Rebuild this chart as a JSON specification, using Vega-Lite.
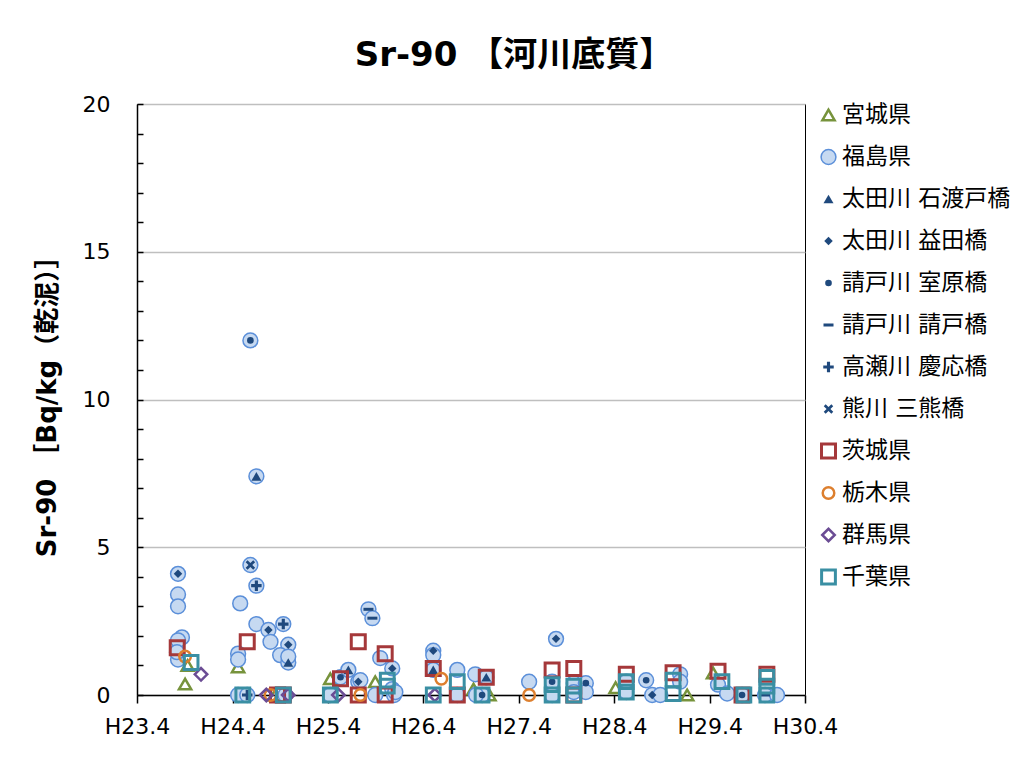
{
  "$schema": "https://vega.github.io/schema/vega-lite/v6.json",
  "autosize": {"type": "none"},
  "width": 668,
  "height": 591,
  "padding": {"left": 137, "top": 104, "right": 228, "bottom": 69},
  "background": "white",
  "title": {
    "text": "Sr-90 【河川底質】",
    "font": "DejaVu Sans, Noto Sans CJK JP",
    "fontSize": 34,
    "fontWeight": "bold",
    "color": "#000000",
    "anchor": "middle",
    "dx": 43,
    "offset": 20
  },
  "config": {
    "view": {"stroke": "#000000", "strokeWidth": 1},
    "axis": {"labelFont": "DejaVu Sans", "titleFont": "DejaVu Sans, Noto Sans CJK JP"}
  },
  "data": {
    "values": [
      {"series": "宮城県", "date": "2011-10-02", "value": 0.37},
      {"series": "宮城県", "date": "2011-10-12", "value": 1.0},
      {"series": "宮城県", "date": "2012-04-22", "value": 0.95},
      {"series": "宮城県", "date": "2012-09-11", "value": 0},
      {"series": "宮城県", "date": "2013-04-10", "value": 0.55},
      {"series": "宮城県", "date": "2013-09-29", "value": 0.45},
      {"series": "宮城県", "date": "2014-10-10", "value": 0.2},
      {"series": "宮城県", "date": "2014-12-10", "value": 0},
      {"series": "宮城県", "date": "2016-04-06", "value": 0.25},
      {"series": "宮城県", "date": "2017-01-05", "value": 0},
      {"series": "宮城県", "date": "2017-04-14", "value": 0.75},

      {"series": "福島県", "date": "2011-09-05", "value": 4.1},
      {"series": "福島県", "date": "2011-09-05", "value": 3.4},
      {"series": "福島県", "date": "2011-09-05", "value": 3.0},
      {"series": "福島県", "date": "2011-09-20", "value": 1.95},
      {"series": "福島県", "date": "2011-09-05", "value": 1.85},
      {"series": "福島県", "date": "2011-09-05", "value": 1.2},
      {"series": "福島県", "date": "2011-09-01", "value": 1.45},
      {"series": "福島県", "date": "2012-06-08", "value": 12.0},
      {"series": "福島県", "date": "2012-07-01", "value": 7.4},
      {"series": "福島県", "date": "2012-06-08", "value": 4.4},
      {"series": "福島県", "date": "2012-07-01", "value": 3.7},
      {"series": "福島県", "date": "2012-04-30", "value": 3.1},
      {"series": "福島県", "date": "2012-07-01", "value": 2.4},
      {"series": "福島県", "date": "2012-08-16", "value": 2.2},
      {"series": "福島県", "date": "2012-10-12", "value": 2.4},
      {"series": "福島県", "date": "2012-08-24", "value": 1.8},
      {"series": "福島県", "date": "2012-10-31", "value": 1.7},
      {"series": "福島県", "date": "2012-09-30", "value": 1.35},
      {"series": "福島県", "date": "2012-10-31", "value": 1.1},
      {"series": "福島県", "date": "2012-10-31", "value": 1.3},
      {"series": "福島県", "date": "2012-04-22", "value": 1.4},
      {"series": "福島県", "date": "2012-04-22", "value": 1.2},
      {"series": "福島県", "date": "2012-04-22", "value": 0},
      {"series": "福島県", "date": "2012-05-27", "value": 0},
      {"series": "福島県", "date": "2012-10-20", "value": 0},
      {"series": "福島県", "date": "2013-05-19", "value": 0.6},
      {"series": "福島県", "date": "2013-06-18", "value": 0.85},
      {"series": "福島県", "date": "2013-07-26", "value": 0.45},
      {"series": "福島県", "date": "2013-09-03", "value": 2.9},
      {"series": "福島県", "date": "2013-09-18", "value": 2.6},
      {"series": "福島県", "date": "2013-10-18", "value": 1.25},
      {"series": "福島県", "date": "2013-12-03", "value": 0.9},
      {"series": "福島県", "date": "2013-08-03", "value": 0.5},
      {"series": "福島県", "date": "2013-12-03", "value": 0.2},
      {"series": "福島県", "date": "2013-04-10", "value": 0},
      {"series": "福島県", "date": "2013-09-29", "value": 0},
      {"series": "福島県", "date": "2013-12-10", "value": 0},
      {"series": "福島県", "date": "2013-12-15", "value": 0.1},
      {"series": "福島県", "date": "2014-05-09", "value": 1.5},
      {"series": "福島県", "date": "2014-05-09", "value": 1.35},
      {"series": "福島県", "date": "2014-05-09", "value": 0.85},
      {"series": "福島県", "date": "2014-08-09", "value": 0.85},
      {"series": "福島県", "date": "2014-10-17", "value": 0.7},
      {"series": "福島県", "date": "2014-11-28", "value": 0.6},
      {"series": "福島県", "date": "2014-08-09", "value": 0},
      {"series": "福島県", "date": "2014-11-12", "value": 0},
      {"series": "福島県", "date": "2014-10-20", "value": 0},
      {"series": "福島県", "date": "2015-05-11", "value": 0.45},
      {"series": "福島県", "date": "2015-08-22", "value": 1.9},
      {"series": "福島県", "date": "2015-08-07", "value": 0.45},
      {"series": "福島県", "date": "2015-08-07", "value": 0},
      {"series": "福島県", "date": "2015-10-29", "value": 0.4},
      {"series": "福島県", "date": "2015-10-29", "value": 0.1},
      {"series": "福島県", "date": "2015-12-14", "value": 0.4},
      {"series": "福島県", "date": "2015-12-14", "value": 0.1},
      {"series": "福島県", "date": "2016-05-17", "value": 0.45},
      {"series": "福島県", "date": "2016-05-17", "value": 0.1},
      {"series": "福島県", "date": "2016-08-01", "value": 0.5},
      {"series": "福島県", "date": "2016-08-24", "value": 0},
      {"series": "福島県", "date": "2016-09-24", "value": 0},
      {"series": "福島県", "date": "2016-12-09", "value": 0.7},
      {"series": "福島県", "date": "2016-12-09", "value": 0.45},
      {"series": "福島県", "date": "2017-05-03", "value": 0.35},
      {"series": "福島県", "date": "2017-06-07", "value": 0.05},
      {"series": "福島県", "date": "2017-08-03", "value": 0},
      {"series": "福島県", "date": "2017-10-30", "value": 0},
      {"series": "福島県", "date": "2017-12-15", "value": 0},

      {"series": "太田川 石渡戸橋", "date": "2012-07-01", "value": 7.4},
      {"series": "太田川 石渡戸橋", "date": "2012-10-31", "value": 1.1},
      {"series": "太田川 石渡戸橋", "date": "2013-06-18", "value": 0.85},
      {"series": "太田川 石渡戸橋", "date": "2014-05-09", "value": 0.85},
      {"series": "太田川 石渡戸橋", "date": "2014-11-28", "value": 0.6},
      {"series": "太田川 益田橋", "date": "2011-09-05", "value": 4.1},
      {"series": "太田川 益田橋", "date": "2012-08-16", "value": 2.2},
      {"series": "太田川 益田橋", "date": "2012-10-31", "value": 1.7},
      {"series": "太田川 益田橋", "date": "2013-07-26", "value": 0.45},
      {"series": "太田川 益田橋", "date": "2013-12-03", "value": 0.9},
      {"series": "太田川 益田橋", "date": "2014-05-09", "value": 1.5},
      {"series": "太田川 益田橋", "date": "2015-08-22", "value": 1.9},
      {"series": "太田川 益田橋", "date": "2016-08-24", "value": 0},
      {"series": "請戸川 室原橋", "date": "2012-06-08", "value": 12.0},
      {"series": "請戸川 室原橋", "date": "2013-05-19", "value": 0.6},
      {"series": "請戸川 室原橋", "date": "2014-11-12", "value": 0},
      {"series": "請戸川 室原橋", "date": "2015-08-07", "value": 0.45},
      {"series": "請戸川 室原橋", "date": "2015-12-14", "value": 0.4},
      {"series": "請戸川 室原橋", "date": "2016-08-01", "value": 0.5},
      {"series": "請戸川 室原橋", "date": "2017-08-03", "value": 0},
      {"series": "請戸川 請戸橋", "date": "2013-09-03", "value": 2.9},
      {"series": "請戸川 請戸橋", "date": "2013-09-18", "value": 2.6},
      {"series": "請戸川 請戸橋", "date": "2017-10-30", "value": 0},
      {"series": "高瀬川 慶応橋", "date": "2012-07-01", "value": 3.7},
      {"series": "高瀬川 慶応橋", "date": "2012-10-12", "value": 2.4},
      {"series": "高瀬川 慶応橋", "date": "2012-05-27", "value": 0},
      {"series": "熊川 三熊橋", "date": "2012-06-08", "value": 4.4},

      {"series": "茨城県", "date": "2011-09-02", "value": 1.6},
      {"series": "茨城県", "date": "2012-05-27", "value": 1.8},
      {"series": "茨城県", "date": "2012-09-20", "value": 0},
      {"series": "茨城県", "date": "2012-10-12", "value": 0},
      {"series": "茨城県", "date": "2013-05-19", "value": 0.55},
      {"series": "茨城県", "date": "2013-07-26", "value": 1.8},
      {"series": "茨城県", "date": "2013-11-06", "value": 1.4},
      {"series": "茨城県", "date": "2013-07-26", "value": 0},
      {"series": "茨城県", "date": "2013-11-06", "value": 0},
      {"series": "茨城県", "date": "2014-05-09", "value": 0.9},
      {"series": "茨城県", "date": "2014-08-09", "value": 0},
      {"series": "茨城県", "date": "2014-11-28", "value": 0.6},
      {"series": "茨城県", "date": "2015-08-07", "value": 0.85},
      {"series": "茨城県", "date": "2015-10-29", "value": 0.9},
      {"series": "茨城県", "date": "2015-10-29", "value": 0},
      {"series": "茨城県", "date": "2016-05-17", "value": 0.7},
      {"series": "茨城県", "date": "2016-11-12", "value": 0.75},
      {"series": "茨城県", "date": "2017-05-03", "value": 0.8},
      {"series": "茨城県", "date": "2017-08-03", "value": 0},
      {"series": "茨城県", "date": "2017-11-06", "value": 0.7},

      {"series": "栃木県", "date": "2011-10-02", "value": 1.3},
      {"series": "栃木県", "date": "2012-08-24", "value": 0},
      {"series": "栃木県", "date": "2013-08-03", "value": 0},
      {"series": "栃木県", "date": "2014-06-09", "value": 0.55},
      {"series": "栃木県", "date": "2015-05-11", "value": 0},

      {"series": "群馬県", "date": "2011-12-02", "value": 0.7},
      {"series": "群馬県", "date": "2012-08-08", "value": 0},
      {"series": "群馬県", "date": "2012-10-31", "value": 0},
      {"series": "群馬県", "date": "2013-05-11", "value": 0},
      {"series": "群馬県", "date": "2014-05-15", "value": 0},

      {"series": "千葉県", "date": "2011-10-25", "value": 1.1},
      {"series": "千葉県", "date": "2012-05-10", "value": 0},
      {"series": "千葉県", "date": "2012-10-12", "value": 0},
      {"series": "千葉県", "date": "2013-04-10", "value": 0},
      {"series": "千葉県", "date": "2013-11-14", "value": 0.5},
      {"series": "千葉県", "date": "2013-11-14", "value": 0.3},
      {"series": "千葉県", "date": "2014-05-09", "value": 0},
      {"series": "千葉県", "date": "2014-08-09", "value": 0.45},
      {"series": "千葉県", "date": "2014-11-12", "value": 0},
      {"series": "千葉県", "date": "2015-08-07", "value": 0.35},
      {"series": "千葉県", "date": "2015-08-07", "value": 0},
      {"series": "千葉県", "date": "2015-10-29", "value": 0.3},
      {"series": "千葉県", "date": "2015-10-29", "value": 0},
      {"series": "千葉県", "date": "2016-05-17", "value": 0.45},
      {"series": "千葉県", "date": "2016-05-17", "value": 0.1},
      {"series": "千葉県", "date": "2016-11-12", "value": 0.5},
      {"series": "千葉県", "date": "2016-11-12", "value": 0.05},
      {"series": "千葉県", "date": "2017-05-18", "value": 0.45},
      {"series": "千葉県", "date": "2017-08-10", "value": 0},
      {"series": "千葉県", "date": "2017-11-06", "value": 0.6},
      {"series": "千葉県", "date": "2017-11-06", "value": 0.3},
      {"series": "千葉県", "date": "2017-11-06", "value": 0}
    ]
  },
  "mark": {"type": "point", "opacity": 1, "filled": false},
  "encoding": {
    "x": {
      "field": "date",
      "type": "temporal",
      "scale": {"domain": [{"year": 2011, "month": 4, "date": 1}, {"year": 2018, "month": 4, "date": 1}], "nice": false},
      "axis": {
        "title": null,
        "values": [
          {"year": 2011, "month": 4, "date": 1},
          {"year": 2012, "month": 4, "date": 1},
          {"year": 2013, "month": 4, "date": 1},
          {"year": 2014, "month": 4, "date": 1},
          {"year": 2015, "month": 4, "date": 1},
          {"year": 2016, "month": 4, "date": 1},
          {"year": 2017, "month": 4, "date": 1},
          {"year": 2018, "month": 4, "date": 1}
        ],
        "labelExpr": "'H' + (year(datum.value) - 1988) + '.' + (month(datum.value) + 1)",
        "labelFontSize": 22,
        "labelColor": "#000000",
        "labelPadding": 13,
        "labelFlush": false,
        "labelOverlap": false,
        "grid": false,
        "domainColor": "#000000",
        "domainWidth": 1.5,
        "tickColor": "#000000",
        "tickWidth": 1.5,
        "tickSize": 8
      }
    },
    "y": {
      "field": "value",
      "type": "quantitative",
      "scale": {"domain": [0, 20], "nice": false},
      "axis": {
        "title": "Sr-90 ［Bq/kg（乾泥）］",
        "titleFontSize": 26,
        "titleFontWeight": "bold",
        "titleColor": "#000000",
        "titlePadding": 22,
        "values": [0,1,2,3,4,5,6,7,8,9,10,11,12,13,14,15,16,17,18,19,20],
        "labelExpr": "datum.value % 5 == 0 ? datum.label : ''",
        "labelFontSize": 22,
        "labelColor": "#000000",
        "labelPadding": 33,
        "grid": true,
        "gridColor": {"condition": {"test": "datum.value % 5 == 0", "value": "#BFBFBF"}, "value": "transparent"},
        "gridWidth": 1.5,
        "domainColor": "#000000",
        "domainWidth": 1.5,
        "tickColor": "#000000",
        "tickWidth": 1.5,
        "tickSize": -6
      }
    },
    "shape": {
      "field": "series",
      "type": "nominal",
      "scale": {
        "domain": ["宮城県", "福島県", "太田川 石渡戸橋", "太田川 益田橋", "請戸川 室原橋", "請戸川 請戸橋", "高瀬川 慶応橋", "熊川 三熊橋", "茨城県", "栃木県", "群馬県", "千葉県"],
        "range": ["triangle-up", "circle", "triangle-up", "diamond", "circle", "M-1,-0.3H1V0.3H-1Z", "M-1,-0.3H-0.3V-1H0.3V-0.3H1V0.3H0.3V1H-0.3V0.3H-1Z", "M-1,-0.6L-0.6,-1L0,-0.4L0.6,-1L1,-0.6L0.4,0L1,0.6L0.6,1L0,0.4L-0.6,1L-1,0.6L-0.4,0Z", "square", "circle", "diamond", "square"]
      },
      "legend": {
        "title": null,
        "orient": "right",
        "offset": 12,
        "labelFont": "DejaVu Sans, Noto Sans CJK JP",
        "labelFontSize": 23,
        "labelColor": "#000000",
        "labelLimit": 300,
        "clipHeight": 22,
        "rowPadding": 19,
        "labelOffset": 2,
        "padding": 0
      }
    },
    "fill": {
      "field": "series",
      "type": "nominal",
      "scale": {
        "domain": ["宮城県", "福島県", "太田川 石渡戸橋", "太田川 益田橋", "請戸川 室原橋", "請戸川 請戸橋", "高瀬川 慶応橋", "熊川 三熊橋", "茨城県", "栃木県", "群馬県", "千葉県"],
        "range": ["transparent", "#C6D9F1", "#1F497D", "#1F497D", "#1F497D", "#1F497D", "#1F497D", "#1F497D", "transparent", "transparent", "transparent", "transparent"]
      }
    },
    "stroke": {
      "field": "series",
      "type": "nominal",
      "scale": {
        "domain": ["宮城県", "福島県", "太田川 石渡戸橋", "太田川 益田橋", "請戸川 室原橋", "請戸川 請戸橋", "高瀬川 慶応橋", "熊川 三熊橋", "茨城県", "栃木県", "群馬県", "千葉県"],
        "range": ["#77933C", "#5B8FD9", "#1F497D", "#1F497D", "#1F497D", "#1F497D", "#1F497D", "#1F497D", "#A5383A", "#DD7F2E", "#6B4C94", "#3A8FA3"]
      }
    },
    "size": {
      "field": "series",
      "type": "nominal",
      "scale": {
        "type": "ordinal",
        "domain": ["宮城県", "福島県", "太田川 石渡戸橋", "太田川 益田橋", "請戸川 室原橋", "請戸川 請戸橋", "高瀬川 慶応橋", "熊川 三熊橋", "茨城県", "栃木県", "群馬県", "千葉県"],
        "range": [150, 220, 100, 72, 44, 100, 110, 90, 196, 133, 156, 190]
      }
    },
    "strokeWidth": {
      "field": "series",
      "type": "nominal",
      "scale": {
        "type": "ordinal",
        "domain": ["宮城県", "福島県", "太田川 石渡戸橋", "太田川 益田橋", "請戸川 室原橋", "請戸川 請戸橋", "高瀬川 慶応橋", "熊川 三熊橋", "茨城県", "栃木県", "群馬県", "千葉県"],
        "range": [2.5, 1.5, 0, 0, 0, 0, 0, 0, 3, 2.5, 2.5, 3]
      }
    }
  }
}
